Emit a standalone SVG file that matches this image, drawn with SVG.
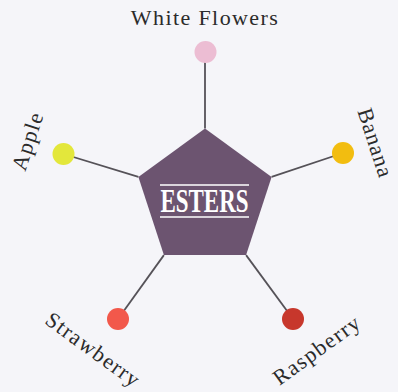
<svg xmlns="http://www.w3.org/2000/svg" width="398" height="392" viewBox="0 0 398 392">
<style>
.lbl{font-family:"Liberation Serif","DejaVu Serif",serif;font-size:22px;letter-spacing:1.4px;fill:#2b2b2b;text-anchor:middle}
.conn line{stroke:#555258;stroke-width:1.8}
.rule{stroke:#ffffff;stroke-width:1.5}
</style>
<rect width="398" height="392" fill="#f5f5f9"/>
<g id="connectors" class="conn">
<line x1="205" y1="128.5" x2="205" y2="52"/>
<line x1="138.4" y1="176.9" x2="63.5" y2="154"/>
<line x1="271.6" y1="176.9" x2="343" y2="153"/>
<line x1="163.9" y1="255.1" x2="118" y2="319"/>
<line x1="246.1" y1="255.1" x2="293" y2="319"/>
</g>
<g id="esters">
<polygon points="205,128.5 271.6,176.9 246.1,255.1 163.9,255.1 138.4,176.9" fill="#6c5470"/>
<line class="rule" x1="160" y1="185" x2="249" y2="185"/>
<line class="rule" x1="160" y1="217" x2="249" y2="217"/>
<text x="204.5" y="212" font-family="Liberation Serif, DejaVu Serif, serif" font-size="33" font-weight="bold" fill="#ffffff" text-anchor="middle" textLength="88" lengthAdjust="spacingAndGlyphs">ESTERS</text>
</g>
<g id="white-flowers">
<circle cx="205.5" cy="52" r="11" fill="#ecbdd3"/>
<text class="lbl" x="205" y="25">White Flowers</text>
</g>
<g id="apple">
<circle cx="63.5" cy="154" r="11" fill="#e3e73b"/>
<text class="lbl" transform="translate(28,141) rotate(-72)" y="7">Apple</text>
</g>
<g id="banana">
<circle cx="343" cy="153" r="11" fill="#f2bd10"/>
<text class="lbl" transform="translate(375,143) rotate(72)" y="7" style="letter-spacing:1px">Banana</text>
</g>
<g id="strawberry">
<circle cx="118" cy="319" r="11" fill="#f2584b"/>
<text class="lbl" transform="translate(93,350) rotate(36)" y="7">Strawberry</text>
</g>
<g id="raspberry">
<circle cx="293" cy="319" r="11" fill="#c7372c"/>
<text class="lbl" transform="translate(317,350) rotate(-36)" y="7">Raspberry</text>
</g>
</svg>
